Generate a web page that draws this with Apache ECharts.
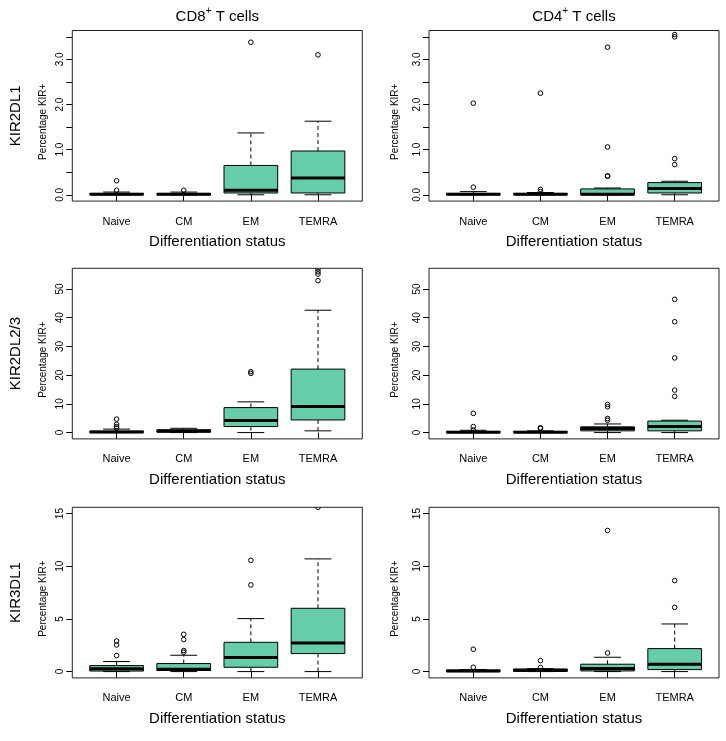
<!DOCTYPE html>
<html><head><meta charset="utf-8">
<script src="https://cdn.jsdelivr.net/npm/echarts@6/dist/echarts.min.js"></script>
<style>html,body{margin:0;padding:0;background:#fff}#c{width:726px;height:741px}</style>
</head><body><div id="c"></div>
<script>
// ---------------- DATA ----------------
const categories = ['Naive', 'CM', 'EM', 'TEMRA'];
const columnTitles = ['CD8', 'CD4'];
const rowLabels = ['KIR2DL1', 'KIR2DL2/3', 'KIR3DL1'];

// box stats per category: [lower whisker, Q1, median, Q3, upper whisker]
const cd8_kir2dl1_box = [[0, 0, 0.01, 0.03, 0.06], [0, 0, 0.01, 0.03, 0.06], [0, 0.04, 0.1, 0.65, 1.37], [0, 0.04, 0.37, 0.97, 1.63]];
const cd8_kir2dl1_out = [[0.1, 0.31], [0.1], [3.38], [3.1]];
const cd4_kir2dl1_box = [[0, 0, 0.01, 0.03, 0.07], [0, 0, 0.01, 0.03, 0.05], [0, 0, 0.01, 0.13, 0.15], [0, 0.04, 0.14, 0.27, 0.3]];
const cd4_kir2dl1_out = [[0.17, 2.03], [0.07, 0.12, 2.25], [0.41, 0.42, 1.06, 3.27], [0.67, 0.8, 3.5, 3.55]];

const cd8_kir2dl23_box = [[0, 0, 0.2, 0.5, 1.2], [0, 0.2, 0.5, 1.0, 1.5], [0, 2.1, 4.2, 8.7, 10.7], [0.6, 4.4, 9.1, 22.1, 42.6]];
const cd8_kir2dl23_out = [[1.5, 2.1, 2.9, 4.7], [], [20.6, 21.2], [52.9, 55.2, 56.0, 57.0]];
const cd4_kir2dl23_box = [[0, 0, 0.1, 0.4, 0.8], [0, 0, 0.1, 0.4, 0.6], [0, 0.6, 1.4, 2.0, 3.0], [0, 0.6, 2.1, 4.0, 4.3]];
const cd4_kir2dl23_out = [[0.9, 2.1, 6.7], [1.4, 1.7], [4.3, 4.9, 9.0, 9.8], [12.6, 14.8, 26.0, 38.6, 46.4]];

const cd8_kir3dl1_box = [[0, 0.05, 0.28, 0.57, 0.95], [0, 0.1, 0.22, 0.76, 1.55], [0, 0.41, 1.33, 2.78, 5.03], [0, 1.71, 2.72, 6.01, 10.7]];
const cd8_kir3dl1_out = [[1.52, 2.53, 2.9], [1.84, 2.0, 3.04, 3.54], [8.23, 10.57], [15.6]];
const cd4_kir3dl1_box = [[0, 0, 0.05, 0.15, 0.19], [0, 0.02, 0.1, 0.25, 0.28], [0, 0.06, 0.3, 0.7, 1.36], [0, 0.19, 0.7, 2.18, 4.52]];
const cd4_kir3dl1_out = [[0.41, 2.12], [0.38, 1.04], [1.77, 13.4], [6.1, 8.64]];

// y ticks and labels per row
const kir2dl1Ticks = [0, 0.5, 1, 1.5, 2, 2.5, 3, 3.5];
const kir2dl1Labels = ['0.0', '1.0', '2.0', '3.0'];
const kir2dl23Ticks = [0, 10, 20, 30, 40, 50];
const kir2dl23Labels = ['0', '10', '20', '30', '40', '50'];
const kir3dl1Ticks = [0, 5, 10, 15];
const kir3dl1Labels = ['0', '5', '10', '15'];

// ---------------- LAYOUT ----------------
const FONT = '"Liberation Sans", Arial, Helvetica, sans-serif';
const FILL = '#66CDAA';
const rowTop = [30.5, 268.3, 507.3];
const rowH = 170.6;
const colLeft = [72.3, 429];
const gridW = 290;
const yLim = [[-0.14, 3.64], [-2.2, 57.2], [-0.6, 15.6]];
const yTickSets = [kir2dl1Ticks, kir2dl23Ticks, kir3dl1Ticks];
const yLabelSets = [kir2dl1Labels, kir2dl23Labels, kir3dl1Labels];
const yNameX = [43, 395];

const panels = [
  { row: 0, col: 0, box: cd8_kir2dl1_box, out: cd8_kir2dl1_out },
  { row: 0, col: 1, box: cd4_kir2dl1_box, out: cd4_kir2dl1_out },
  { row: 1, col: 0, box: cd8_kir2dl23_box, out: cd8_kir2dl23_out },
  { row: 1, col: 1, box: cd4_kir2dl23_box, out: cd4_kir2dl23_out },
  { row: 2, col: 0, box: cd8_kir3dl1_box, out: cd8_kir3dl1_out },
  { row: 2, col: 1, box: cd4_kir3dl1_box, out: cd4_kir3dl1_out }
];

function renderBox(params, api) {
  const x = api.value(0);
  const lo = api.coord([x, api.value(1)]);
  const q1 = api.coord([x, api.value(2)]);
  const md = api.coord([x, api.value(3)]);
  const q3 = api.coord([x, api.value(4)]);
  const hi = api.coord([x, api.value(5)]);
  const cx = lo[0];
  const halfW = api.coord([x + 0.4, api.value(3)])[0] - cx;
  const st = halfW / 2;
  const dash = { stroke: '#000', lineWidth: 1, lineDash: [4, 3], fill: null };
  const solid = { stroke: '#000', lineWidth: 1, fill: null };
  const ch = [];
  if (hi[1] < q3[1]) ch.push({ type: 'line', shape: { x1: cx, y1: q3[1], x2: cx, y2: hi[1] }, style: dash });
  if (lo[1] > q1[1]) ch.push({ type: 'line', shape: { x1: cx, y1: q1[1], x2: cx, y2: lo[1] }, style: dash });
  ch.push({ type: 'line', shape: { x1: cx - st, y1: hi[1], x2: cx + st, y2: hi[1] }, style: solid });
  ch.push({ type: 'line', shape: { x1: cx - st, y1: lo[1], x2: cx + st, y2: lo[1] }, style: solid });
  ch.push({ type: 'rect', shape: { x: cx - halfW, y: q3[1], width: 2 * halfW, height: q1[1] - q3[1] }, style: { fill: FILL, stroke: '#000', lineWidth: 1 } });
  ch.push({ type: 'line', shape: { x1: cx - halfW, y1: md[1], x2: cx + halfW, y2: md[1] }, style: { stroke: '#000', lineWidth: 3 } });
  return { type: 'group', children: ch };
}

function renderOutlier(params, api) {
  const p = api.coord([api.value(0), api.value(1)]);
  return { type: 'circle', shape: { cx: p[0], cy: p[1], r: 2.3 }, style: { fill: null, stroke: '#000', lineWidth: 1 } };
}

const grid = [], xAxis = [], yAxis = [], series = [], graphic = [];
panels.forEach((p, i) => {
  grid.push({ left: colLeft[p.col], top: rowTop[p.row], width: gridW, height: rowH, show: true, borderColor: '#222', borderWidth: 1, backgroundColor: 'transparent' });
  xAxis.push({
    gridIndex: i, type: 'value', min: 0.34, max: 4.66,
    axisLine: { show: false }, splitLine: { show: false },
    axisTick: { show: true, customValues: [1, 2, 3, 4], length: 6, lineStyle: { color: '#000', width: 1 } },
    axisLabel: { customValues: [1, 2, 3, 4], formatter: v => categories[Math.round(v) - 1], fontSize: 11, color: '#000', fontFamily: FONT, margin: 15 }
  });
  const labs = yLabelSets[p.row];
  yAxis.push({
    gridIndex: i, type: 'value', min: yLim[p.row][0], max: yLim[p.row][1],
    axisLine: { show: false }, splitLine: { show: false },
    axisTick: { show: true, customValues: yTickSets[p.row], length: 6, lineStyle: { color: '#000', width: 1 } },
    axisLabel: { customValues: labs.map(Number), formatter: v => labs[labs.map(Number).indexOf(v)] ?? String(v), rotate: 90, fontSize: 10, color: '#000', fontFamily: FONT, margin: 7 }
  });
  series.push({
    type: 'custom', xAxisIndex: i, yAxisIndex: i, clip: true, silent: true,
    renderItem: renderBox,
    encode: { x: 0, y: [1, 2, 3, 4, 5] },
    data: p.box.map((b, k) => [k + 1].concat(b))
  });
  series.push({
    type: 'custom', xAxisIndex: i, yAxisIndex: i, clip: true, silent: true,
    renderItem: renderOutlier,
    encode: { x: 0, y: 1 },
    data: p.out.flatMap((arr, k) => arr.map(v => [k + 1, v]))
  });
  const cxm = colLeft[p.col] + gridW / 2;
  const cym = rowTop[p.row] + rowH / 2;
  graphic.push({ type: 'text', x: cxm, y: rowTop[p.row] + rowH + 41, style: { text: 'Differentiation status', fontSize: 15, fontFamily: FONT, fill: '#000', align: 'center', verticalAlign: 'middle' } });
  graphic.push({ type: 'text', x: yNameX[p.col], y: cym + 6, rotation: Math.PI / 2, style: { text: 'Percentage KIR+', fontSize: 10, fontFamily: FONT, fill: '#000', align: 'center', verticalAlign: 'middle' } });
});

columnTitles.forEach((t, c) => {
  graphic.push({ type: 'text', x: colLeft[c] + gridW / 2, y: 15, style: {
    text: '{n|' + t + '}{s|+}{n| T cells}', fontFamily: FONT, fill: '#000', align: 'center', verticalAlign: 'middle',
    rich: { n: { fontSize: 15, fontFamily: FONT, lineHeight: 18, verticalAlign: 'bottom' }, s: { fontSize: 10, fontFamily: FONT, lineHeight: 18, verticalAlign: 'top' } }
  } });
});
rowLabels.forEach((t, r) => {
  graphic.push({ type: 'text', x: 16, y: rowTop[r] + rowH / 2, rotation: Math.PI / 2, style: { text: t, fontSize: 15, fontFamily: FONT, fill: '#000', align: 'center', verticalAlign: 'middle' } });
});

const chart = echarts.init(document.getElementById('c'), null, { renderer: 'canvas' });
chart.setOption({ animation: false, backgroundColor: '#fff', grid, xAxis, yAxis, series, graphic });
</script></body></html>
